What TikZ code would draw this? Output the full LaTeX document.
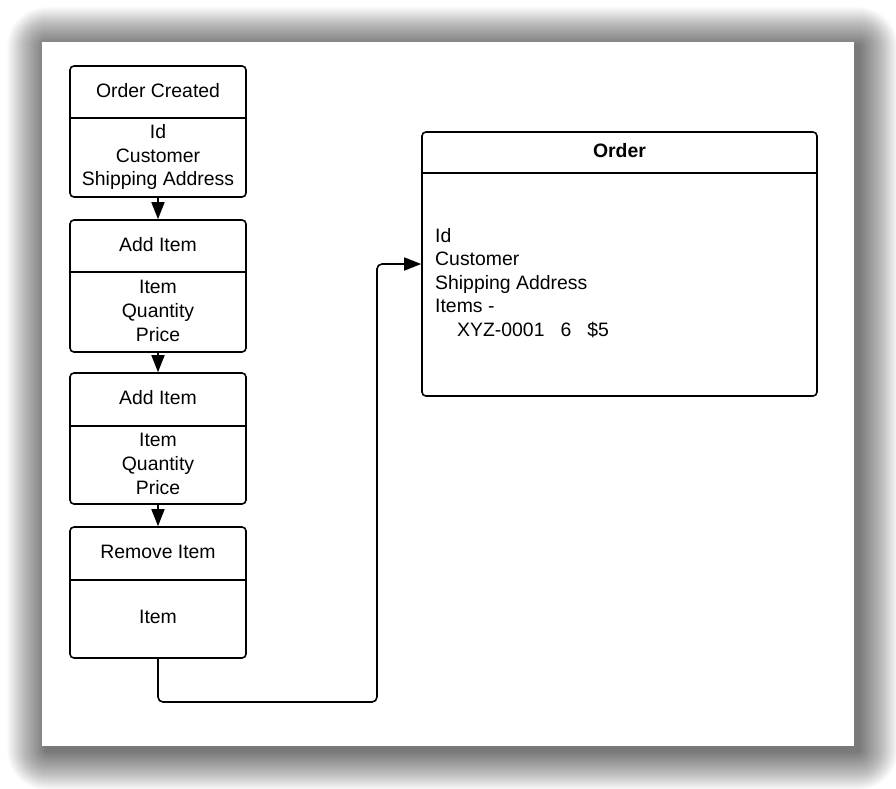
\documentclass[tikz,border=0pt]{standalone}
\usepackage{fontspec}
\setmainfont{Liberation Sans}
\usetikzlibrary{arrows.meta}

\tikzset{
  txt/.style={font=\fontsize{19.4}{23.6}\selectfont, inner sep=0pt, align=center},
  evbox/.style={draw=black, line width=1.6pt, rounded corners=4pt,
                minimum width=176pt, inner sep=0pt},
  divider/.style={draw=black, line width=1.6pt},
  flow/.style={draw=black, line width=1.6pt,
               -{Triangle[length=17pt,width=13pt]}},
}

\begin{document}
\begin{tikzpicture}[x=1pt, y=-1pt]
  % page and its soft drop shadow
  \useasboundingbox (0,0) rectangle (896,788);
  \fill[white] (0,0) rectangle (896,788);
  \foreach \i in {1,...,40} {
    \fill[black, opacity=0.0148, rounded corners=\i pt]
      (47-\i, 47-\i) rectangle (858+\i, 750+\i);
  }
  \fill[white] (42,42) rectangle (854,746);

  % event boxes
  \node[evbox, minimum height=131pt] (oc)  at (158,131.5) {};
  \node[evbox, minimum height=132pt] (ai1) at (158,286)   {};
  \node[evbox, minimum height=131pt] (ai2) at (158,438.5) {};
  \node[evbox, minimum height=131pt] (rm)  at (158,592.5) {};

  \draw[divider] (oc.west  |- 0,118) -- (oc.east  |- 0,118);
  \draw[divider] (ai1.west |- 0,272) -- (ai1.east |- 0,272);
  \draw[divider] (ai2.west |- 0,426) -- (ai2.east |- 0,426);
  \draw[divider] (rm.west  |- 0,580) -- (rm.east  |- 0,580);

  \node[txt] (ochead)  at (158,91)  {Order Created};
  \node[txt] (ocbody)  at (158,157) {Id\\Customer\\Shipping Address};
  \node[txt] (ai1head) at (158,245) {Add Item};
  \node[txt] (ai1body) at (158,311) {Item\\Quantity\\Price};
  \node[txt] (ai2head) at (158,398) {Add Item};
  \node[txt] (ai2body) at (158,464) {Item\\Quantity\\Price};
  \node[txt] (rmhead)  at (158,552) {Remove Item};
  \node[txt] (rmbody)  at (158,617) {Item};

  % aggregate
  \node[evbox, minimum width=395pt, minimum height=264pt] (ord) at (619.5,264) {};
  \draw[divider] (ord.west |- 0,173) -- (ord.east |- 0,173);
  \node[txt, font=\fontsize{19.4}{23.6}\selectfont\bfseries] (ordhead) at (619.5,151) {Order};
  \node[txt, align=left, anchor=west] (ordbody) at (435,283)
    {Id\\Customer\\Shipping Address\\Items -\\
     \hspace*{22pt}XYZ-0001\hspace{16pt}6\hspace{16pt}\$5};

  % event stream
  \draw[flow] (oc)  -- (ai1);
  \draw[flow] (ai1) -- (ai2);
  \draw[flow] (ai2) -- (rm);

  % replay into the aggregate
  \coordinate (bend) at (377,702);
  \draw[flow, rounded corners=5pt]
    (rm.south) -- (rm.south |- bend) -- (bend) -- (bend |- ord.west) -- (ord.west);
\end{tikzpicture}
\end{document}
